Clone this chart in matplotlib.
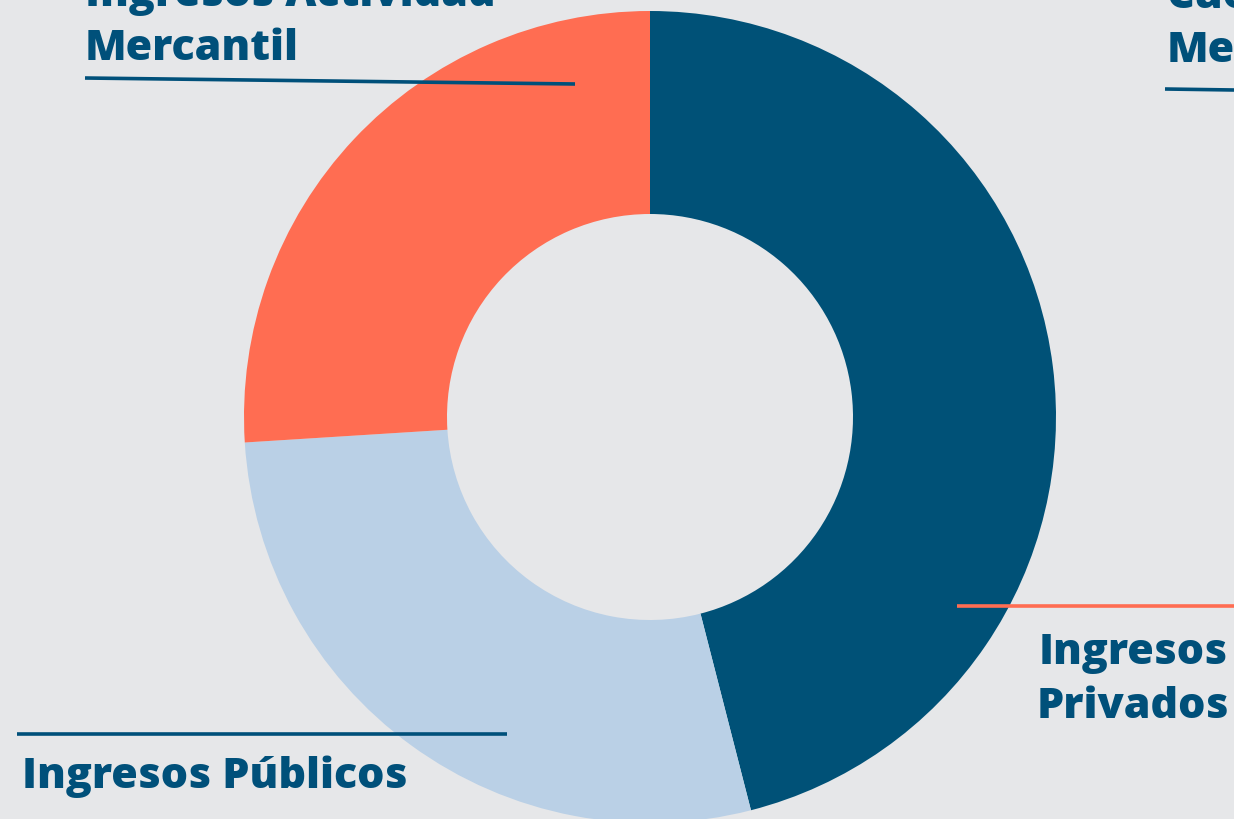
import matplotlib.pyplot as plt

categorias = ["Ingresos Privados", "Ingresos Públicos", "Ingresos Actividad Mercantil"]
valores = [46, 28, 26]
colores = ["#005177", "#BAD0E6", "#FF6D52"]

fondo = "#E6E7E9"
azul = "#00507A"
naranja = "#FF6D52"

W, H = 1234, 820

fig = plt.figure(figsize=(12.34, 8.2), dpi=100, facecolor=fondo)
ax = fig.add_axes([0, 0, 1, 1])
ax.set_facecolor(fondo)

ax.pie(valores, colors=colores, startangle=90, counterclock=False,
       center=(650, H - 418), radius=406,
       wedgeprops=dict(width=203, linewidth=0))

ax.set_xlim(0, W)
ax.set_ylim(0, H)
ax.axis("off")


def y(p):
    # pixel row counted from the top
    return H - p


txt = dict(color=azul, fontsize=31, fontweight=800, family="Open Sans",
           linespacing=1.36)

# Ingresos Actividad Mercantil
ax.text(85, y(60), "Ingresos Actividad\nMercantil", ha="left", va="baseline", **txt)
ax.plot([85, 575], [y(79), y(85)], color=azul, lw=2.6, solid_capstyle="butt")

# Cuotas Membresía
ax.text(1167, y(62), "Cuotas\nMembresía", ha="left", va="baseline", **txt)
ax.plot([1165, W], [y(90), y(91)], color=azul, lw=2.6, solid_capstyle="butt")

# Ingresos Privados
ax.text(1133, y(718), "Ingresos\nPrivados", ha="center", va="baseline", **txt)
ax.plot([957, W], [y(607), y(607)], color=naranja, lw=2.6, solid_capstyle="butt")

# Ingresos Públicos
ax.text(22, y(788), "Ingresos Públicos", ha="left", va="baseline", **txt)
ax.plot([17, 507], [y(735), y(735)], color=azul, lw=2.6, solid_capstyle="butt")

fig.savefig("out.png", dpi=100, facecolor=fondo)
